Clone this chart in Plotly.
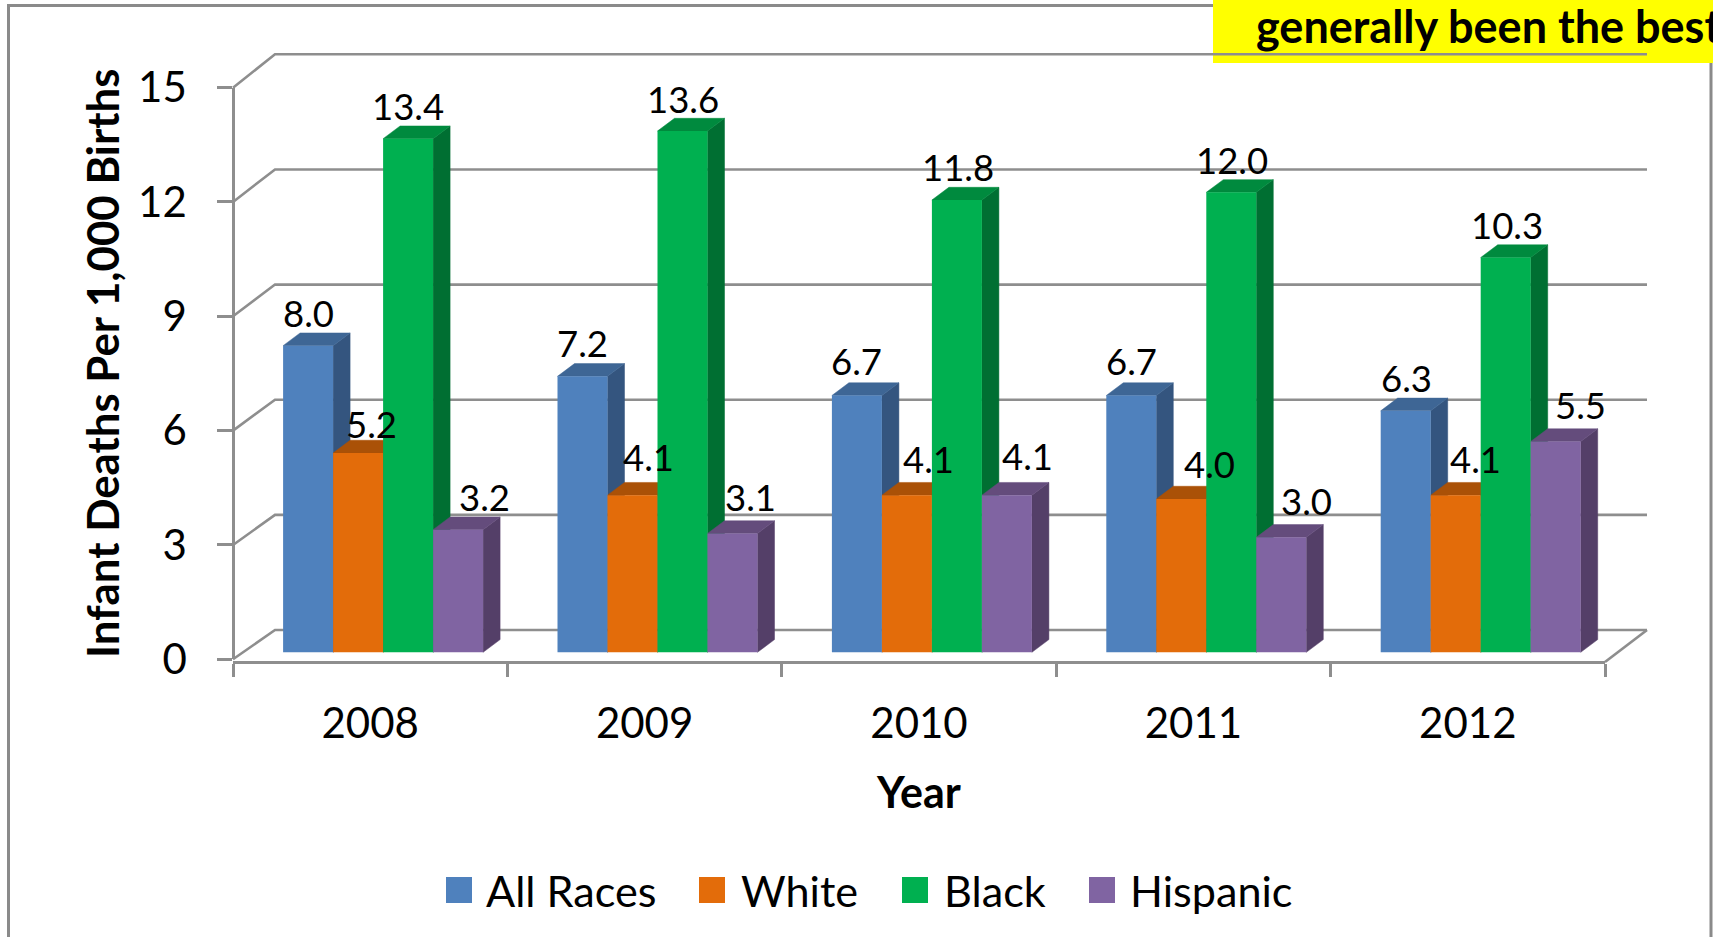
import plotly.graph_objects as go

YEARS = ["2008", "2009", "2010", "2011", "2012"]
SERIES = ["All Races", "White", "Black", "Hispanic"]
ALL_RACES = [8.0, 7.2, 6.7, 6.7, 6.3]
WHITE = [5.2, 4.1, 4.1, 4.0, 4.1]
BLACK = [13.4, 13.6, 11.8, 12.0, 10.3]
HISPANIC = [3.2, 3.1, 4.1, 3.0, 5.5]
VALUES = [ALL_RACES, WHITE, BLACK, HISPANIC]
Y_TICKS = [0, 3, 6, 9, 12, 15]

FRONT = ["#4F81BD", "#E36C0A", "#00B050", "#8064A2"]
SIDE = ["#34557F", "#8F4507", "#006F32", "#543F68"]
TOP = ["#3E6695", "#AA5107", "#008A3E", "#644C7C"]
GRID = "#8E8E8E"
FONT = "Lato, Carlito, Calibri, sans-serif"

# label nudges in pixels relative to each bar's top-centre (series x year)
LABEL_DX = [[0, 0, 0, 0, 1], [13, 16, 22, 28, 20], [0, 0, 1, 1, 1], [26, 18, 21, 25, 25]]
LABEL_DY = [[33, 33, 34, 34, 33], [29, 38, 36, 35, 36], [33, 32, 33, 32, 33], [33, 36, 39, 36, 36]]

W, H = 1713, 937
CAT_PX = 274.4          # width of one year on the x axis
AX_LEFT = 233.0
AX_RIGHT = AX_LEFT + CAT_PX * len(YEARS)
UNIT_PX = 38.33         # one value unit for the bars
BASE_PX = 652.3         # bar baseline
WALL_UNIT = 38.11       # front edge of the wall
WALL_ZERO = 659.3
BACK_UNIT = 38.38       # back edge of the wall
BACK_ZERO = 630.0
DEPTH_X = 42.0          # wall depth
BAR_DX, BAR_DY = 17.0, 12.7     # bar depth
BAR_PX = 50.0
GROUP_SHIFT = (383.1 - AX_LEFT) / CAT_PX - 0.5


def ux(px):
    return (px - AX_LEFT) / CAT_PX - 0.5


def uy(py):
    return (BASE_PX - py) / UNIT_PX


XR = [ux(0), ux(W)]
YR = [uy(H), uy(0)]
fig = go.Figure()

# walls and floor
wx, wy = [], []
for v in Y_TICKS:
    f = WALL_ZERO - v * WALL_UNIT
    b = BACK_ZERO - v * BACK_UNIT
    wx += [ux(AX_LEFT), ux(AX_LEFT + DEPTH_X), ux(AX_RIGHT + DEPTH_X), None]
    wy += [uy(f), uy(b), uy(b), None]
wx += [ux(AX_RIGHT), ux(AX_RIGHT + DEPTH_X), None]
wy += [uy(662), uy(BACK_ZERO), None]
fig.add_trace(go.Scatter(x=wx, y=wy, mode="lines", line=dict(color=GRID, width=2.6),
                         hoverinfo="skip", showlegend=False))

# 3-D side and top faces, computed from the values
bw = BAR_PX / CAT_PX
ddx, ddy = BAR_DX / CAT_PX, BAR_DY / UNIT_PX
for s, vals in enumerate(VALUES):
    sx, sy, tx, ty = [], [], [], []
    for i, v in enumerate(vals):
        x0 = i + GROUP_SHIFT + (s - 2) * bw
        x1 = x0 + bw
        sx += [x1, x1 + ddx, x1 + ddx, x1, x1, None]
        sy += [0, ddy, v + ddy, v, 0, None]
        tx += [x0, x0 + ddx, x1 + ddx, x1, x0, None]
        ty += [v, v + ddy, v + ddy, v, v, None]
    for xs, ys, c in ((sx, sy, SIDE[s]), (tx, ty, TOP[s])):
        fig.add_trace(go.Scatter(x=xs, y=ys, mode="lines", fill="toself", fillcolor=c,
                                 line=dict(color=c, width=0.5), hoverinfo="skip", showlegend=False))

# front faces
for s, vals in enumerate(VALUES):
    fig.add_trace(go.Bar(x=[i + GROUP_SHIFT for i in range(len(YEARS))], y=vals, name=SERIES[s],
                         marker=dict(color=FRONT[s], line=dict(width=0)), xaxis="x3", yaxis="y3",
                         showlegend=False, hovertemplate="%{y:.1f}<extra>" + SERIES[s] + "</extra>"))

# axis carrier
fig.add_trace(go.Scatter(x=YEARS, y=[0] * len(YEARS), xaxis="x2", yaxis="y2", mode="markers",
                         marker=dict(opacity=0), hoverinfo="skip", showlegend=False))

ann = []
for s, vals in enumerate(VALUES):
    for i, v in enumerate(vals):
        ann.append(dict(x=i + GROUP_SHIFT + (s - 1.5) * bw, y=v, xref="x3", yref="y3",
                        text=f"{v:.1f}", showarrow=False, xanchor="center", yanchor="middle",
                        xshift=LABEL_DX[s][i], yshift=LABEL_DY[s][i],
                        font=dict(family=FONT, size=36.5, color="#000000")))

ann.append(dict(x=102 / W, y=1 - 363 / H, xref="paper", yref="paper", textangle=-90, showarrow=False,
                text="<b>Infant Deaths Per 1,000 Births</b>", xanchor="center", yanchor="middle",
                font=dict(family=FONT, size=43.8, color="#000000")))
ann.append(dict(x=919 / W, y=1 - 791 / H, xref="paper", yref="paper", showarrow=False,
                text="<b>Year</b>", xanchor="center", yanchor="middle",
                font=dict(family=FONT, size=43, color="#000000")))

# legend
LEG_SQ = [446, 699, 902, 1089]
LEG_TX = [484, 739, 942, 1128]
LEG_Y = 890
for s, name in enumerate(SERIES):
    fig.add_trace(go.Scatter(x=[ux(LEG_SQ[s] + 13)], y=[uy(LEG_Y)], mode="markers", hoverinfo="skip",
                             marker=dict(symbol="square", size=26, color=FRONT[s]), showlegend=False))
    ann.append(dict(x=LEG_TX[s] / W, y=1 - LEG_Y / H, xref="paper", yref="paper", text=name,
                    showarrow=False, xanchor="left", yanchor="middle",
                    font=dict(family=FONT, size=43.2, color="#000000")))

ann.append(dict(x=1254 / W, y=1 - 26 / H, xref="paper", yref="paper", text="<b>generally been the best</b>",
                showarrow=False, xanchor="left", yanchor="middle",
                font=dict(family=FONT, size=45, color="#000000")))

fig.update_layout(
    width=W, height=H, autosize=False, margin=dict(l=0, r=0, t=0, b=0, pad=0),
    template="none",
    paper_bgcolor="#FFFFFF", plot_bgcolor="rgba(0,0,0,0)", barmode="group",
    bargap=1 - 4 * BAR_PX / CAT_PX, bargroupgap=0, showlegend=False,
    xaxis=dict(domain=[0, 1], range=XR, visible=False),
    yaxis=dict(domain=[0, 1], range=YR, visible=False),
    xaxis3=dict(overlaying="x", range=XR, visible=False, anchor="y3"),
    yaxis3=dict(overlaying="y", range=YR, visible=False, anchor="x3"),
    xaxis2=dict(domain=[AX_LEFT / W, AX_RIGHT / W], type="category", range=[-0.5, len(YEARS) - 0.5],
                anchor="free", position=1 - 662 / H, tickson="boundaries", ticks="outside", ticklen=13,
                tickwidth=2.6, tickcolor=GRID, showline=True, linecolor=GRID, linewidth=2.6, showgrid=False,
                zeroline=False, ticklabelstandoff=24, tickfont=dict(family=FONT, size=42, color="#000000"),
                categoryorder="array", categoryarray=YEARS, automargin=False),
    yaxis2=dict(domain=[1 - WALL_ZERO / H, 1 - (WALL_ZERO - 15 * WALL_UNIT) / H], range=[0, 15],
                anchor="free", position=AX_LEFT / W, side="left", tickvals=Y_TICKS, ticks="outside", ticklen=15,
                tickwidth=2.6, tickcolor=GRID, showline=True, linecolor=GRID, linewidth=2.6, showgrid=False,
                zeroline=False, ticklabelstandoff=22, tickfont=dict(family=FONT, size=42, color="#000000"),
                automargin=False),
    annotations=ann,
    shapes=[
        dict(type="rect", xref="paper", yref="paper", x0=8.5 / W, x1=1711 / W, y0=-0.05, y1=1 - 5.5 / H,
             line=dict(color="#8A8A8A", width=3), fillcolor="rgba(0,0,0,0)", layer="below"),
        dict(type="rect", xref="paper", yref="paper", x0=1213 / W, x1=1.01, y0=1 - 63 / H, y1=1.01,
             line=dict(width=0), fillcolor="#FFFF00", layer="below"),
    ],
)
fig.write_html("out.html", config=dict(displayModeBar=False),
               post_script="document.body.style.margin='0';document.body.style.overflow='hidden';")
